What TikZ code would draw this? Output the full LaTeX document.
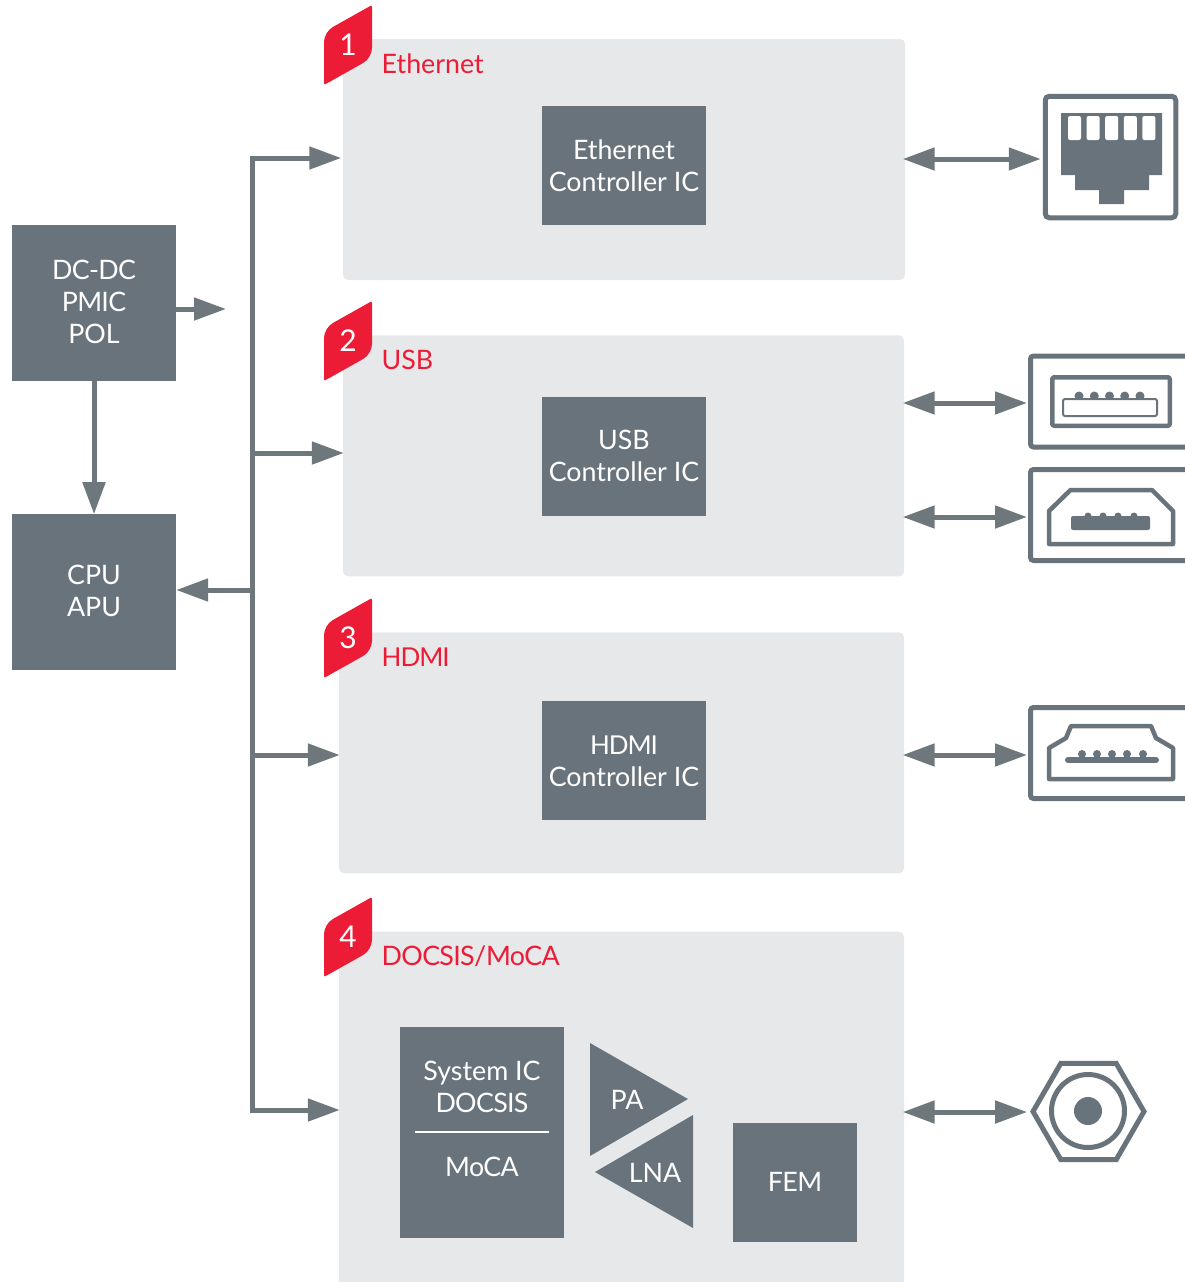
\documentclass[tikz,border=0pt]{standalone}
\usepackage{fontspec}
\setmainfont{Lato}
\usetikzlibrary{arrows.meta,positioning,shapes.geometric}
\definecolor{chipgray}{HTML}{69737B}
\definecolor{panelgray}{HTML}{E7E8EA}
\definecolor{linkgray}{HTML}{6E777C}
\definecolor{tagred}{HTML}{ED1C36}
\newcommand{\tightcaps}[1]{{\addfontfeature{LetterSpace=-2.5}#1}}
\newcommand{\tightercaps}[1]{{\fontsize{26}{32}\selectfont\addfontfeature{LetterSpace=-4}#1}}

\begin{document}
\begin{tikzpicture}[x=1pt, y=-1pt, node distance=1cm, auto]
\tikzset{
   chip/.style={rectangle, fill=chipgray, text=white, inner sep=0pt, align=center, font=\fontsize{26.8}{32}\selectfont},
   chiptext/.style={text=white, inner sep=0pt, align=center, font=\fontsize{26.8}{32}\selectfont},
   panel/.style={rectangle, rounded corners=5pt, fill=panelgray, inner sep=0pt, minimum height=241pt},
   tag/.style={text=tagred, inner sep=0pt, anchor=base west, font=\fontsize{26.8}{32}\selectfont},
   port/.style={rectangle, rounded corners=3pt, draw=chipgray, line width=5pt, inner sep=0pt, minimum width=170pt, minimum height=91pt},
   icon/.style={draw=chipgray, line width=4.5pt, line join=round},
   link/.style={draw=linkgray, line width=5pt, >={Triangle[length=32pt,width=22pt]}},
}
\useasboundingbox (0,0) rectangle (1185,1282);
\clip (0,0) rectangle (1185,1282);

\node[chip, minimum width=164pt, minimum height=156pt] (dcdc) at (94,303) {};
\node[chiptext, yshift=1pt] (dcdctext) at (dcdc) {\tightcaps{DC-DC}\\\tightcaps{PMIC}\\POL};
\node[chip, minimum width=164pt, minimum height=156pt, below=133pt of dcdc] (cpu) {};
\node[chiptext, yshift=2pt] (cputext) at (cpu) {CPU\\APU};

\node[panel, minimum width=562pt] (ethernet) at (624,159.5) {};
\node[panel, minimum width=561pt, below=55pt of ethernet, xshift=-0.5pt] (usb) {};
\node[panel, minimum width=565pt, below=55.5pt of usb, xshift=-2pt] (hdmi) {};
\node[panel, minimum width=565pt, minimum height=359pt, below=58pt of hdmi] (docsis) {};

\node[chip, minimum width=164pt, minimum height=119pt, below=67pt of ethernet.north] (ethernetic) {Ethernet\\Controller IC};
\node[chip, minimum width=164pt, minimum height=119pt, below=62pt of usb.north, xshift=0.5pt] (usbic) {};
\node[chiptext, yshift=1pt] (usbtext) at (usbic) {USB\\Controller IC};
\node[chip, minimum width=164pt, minimum height=119pt, below=69pt of hdmi.north, xshift=2.5pt] (hdmiic) {\tightercaps{HDMI}\\Controller IC};

\node[chip, minimum width=164pt, minimum height=211pt] (systemic) at (482,1132.5) {};
\node[chiptext, below=34pt of systemic.north] (systemtext) {System IC\\\tightcaps{DOCSIS}};
\node[chiptext, below=130pt of systemic.north] (mocatext) {\tightcaps{MoCA}};
\coordinate (ruleleft) at (415,1132);
\coordinate (ruleright) at (549,1132);
\draw[white, line width=2.5pt] (ruleleft) -- (ruleright);

\fill[chipgray] (590,1043) -- (688,1099) -- (590,1156) -- cycle;
\fill[chipgray] (595,1172) -- (693,1115) -- (693,1228) -- cycle;
\node[chiptext] (pa) at (627,1099.5) {PA};
\node[chiptext] (lna) at (655,1173) {LNA};
\node[chip, minimum width=124pt, minimum height=119pt] (fem) at (795,1182.5) {};
\node[chiptext, yshift=1pt] (femtext) at (fem) {\tightcaps{FEM}};

% numbered corners of the four panels
\foreach \num/\txt/\yy in {1/Ethernet/0, 2/USB/296, 3/\tightercaps{HDMI}/593, 4/\tightcaps{DOCSIS\slash MoCA}/892} {
   \begin{scope}[yshift=-\yy pt]
   \fill[tagred, rounded corners=2pt] (324,85) [rounded corners=10pt] -- (324,32) [rounded corners=2pt] -- (372,5) [rounded corners=10pt] -- (372,58) [rounded corners=2pt] -- cycle;
   \node[text=white, inner sep=0pt, font=\fontsize{30}{30}\selectfont] (badge\num) at (348,45) {\num};
   \node[tag] (tag\num) at (381.5,73) {\txt};
   \end{scope}
}

% the bus
\coordinate (bus1) at (252,158);
\coordinate (bus2) at (252,453);
\coordinate (bus3) at (252,590);
\coordinate (bus4) at (252,755);
\coordinate (bus5) at (252,1110);
\coordinate (pmicend) at (226,309);
\draw[link, <->, shorten <=1.5pt, shorten >=-1pt] (bus1 -| ethernet.west) -- (bus1) -- (bus5) -- (bus5 -| docsis.west);
\draw[link, ->, shorten >=-1pt] (bus2) -- (bus2 -| usb.west);
\draw[link, ->] (bus3) -- (bus3 -| cpu.east);
\draw[link, ->, shorten >=-1pt] (bus4) -- (bus4 -| hdmi.west);
\draw[link, ->] (dcdc.east |- pmicend) -- (pmicend);
\draw[link, ->] (dcdc.south) -- (cpu.north);

% ports
\node[port, rounded corners=4pt, minimum width=130.5pt, minimum height=121.5pt] (rj) at (1110.5,157) {};
\node[port, anchor=west] (usbport) at (1028,401.5) {};
\node[port, anchor=west] (miniport) at (1028,515) {};
\node[port, anchor=west] (hdmiport) at (1028,753) {};
\node[draw=chipgray, line width=5pt, regular polygon, regular polygon sides=6, minimum size=111pt, inner sep=0pt] (coax) at (1088.5,1111.5) {};

\coordinate (rjlink) at (1000,159);
\coordinate (usblink) at (1000,403);
\coordinate (minilink) at (1000,517);
\coordinate (hdmilink) at (1000,755);
\coordinate (coaxlink) at (1000,1112);
\draw[link, <->, shorten <=-2.5pt, shorten >=2pt] (ethernet.east |- rjlink) -- (rj.west |- rjlink);
\draw[link, <->, shorten <=-1.5pt, shorten >=1pt] (usb.east |- usblink) -- (usbport.west |- usblink);
\draw[link, <->, shorten <=-1.5pt, shorten >=1pt] (usb.east |- minilink) -- (miniport.west |- minilink);
\draw[link, <->, shorten <=-1.5pt, shorten >=1pt] (hdmi.east |- hdmilink) -- (hdmiport.west |- hdmilink);
\draw[link, <->, shorten <=-1.5pt, shorten >=3pt] (docsis.east |- coaxlink) -- (coax.west |- coaxlink);

\fill[chipgray] (1061,113) -- (1162,113) -- (1162,175) -- (1149,175) -- (1149,190) -- (1124,190) -- (1124,204) -- (1099,204) -- (1099,190) -- (1075,190) -- (1075,175) -- (1061,175) -- cycle;
\foreach \tooth in {0,...,4} {
   \fill[white, rounded corners=2pt] (1068+18.6*\tooth,116) -- (1081+18.6*\tooth,116) -- (1081+18.6*\tooth,140) -- (1068+18.6*\tooth,140) -- cycle;
}

\draw[icon, rounded corners=2pt] (1052.25,377.25) rectangle (1169.75,425.75);
\foreach \pin in {1079,1094.3,1109.5,1124.7,1140} {
   \fill[chipgray] (\pin,396) circle (4.5);
}
\draw[draw=chipgray, fill=white, line width=2pt, rounded corners=2pt] (1063,399) rectangle (1157,416);

\draw[icon] (1070.5,490) -- (1152,490) -- (1173,511) -- (1173,544) -- (1049,544) -- (1049,511) -- cycle;
\foreach \pin in {1088,1103,1118,1134} {
   \fill[chipgray] (\pin,516) circle (3.5);
}
\fill[chipgray, rounded corners=2pt] (1071,516) rectangle (1150,530);

\draw[icon] (1071,726) -- (1151,726) -- (1156,738) -- (1173,748) -- (1173,779) -- (1049,779) -- (1049,748) -- (1066,738) -- cycle;
\foreach \pin in {1082,1097,1112,1127,1143} {
   \fill[chipgray] (\pin,754) circle (4);
}
\draw[draw=chipgray, line width=6pt, line cap=round] (1068,760) -- (1156,760);

\draw[draw=chipgray, line width=5pt] (1088,1111) circle (36.5);
\fill[chipgray] (1088,1111) circle (14);
\end{tikzpicture}
\end{document}
